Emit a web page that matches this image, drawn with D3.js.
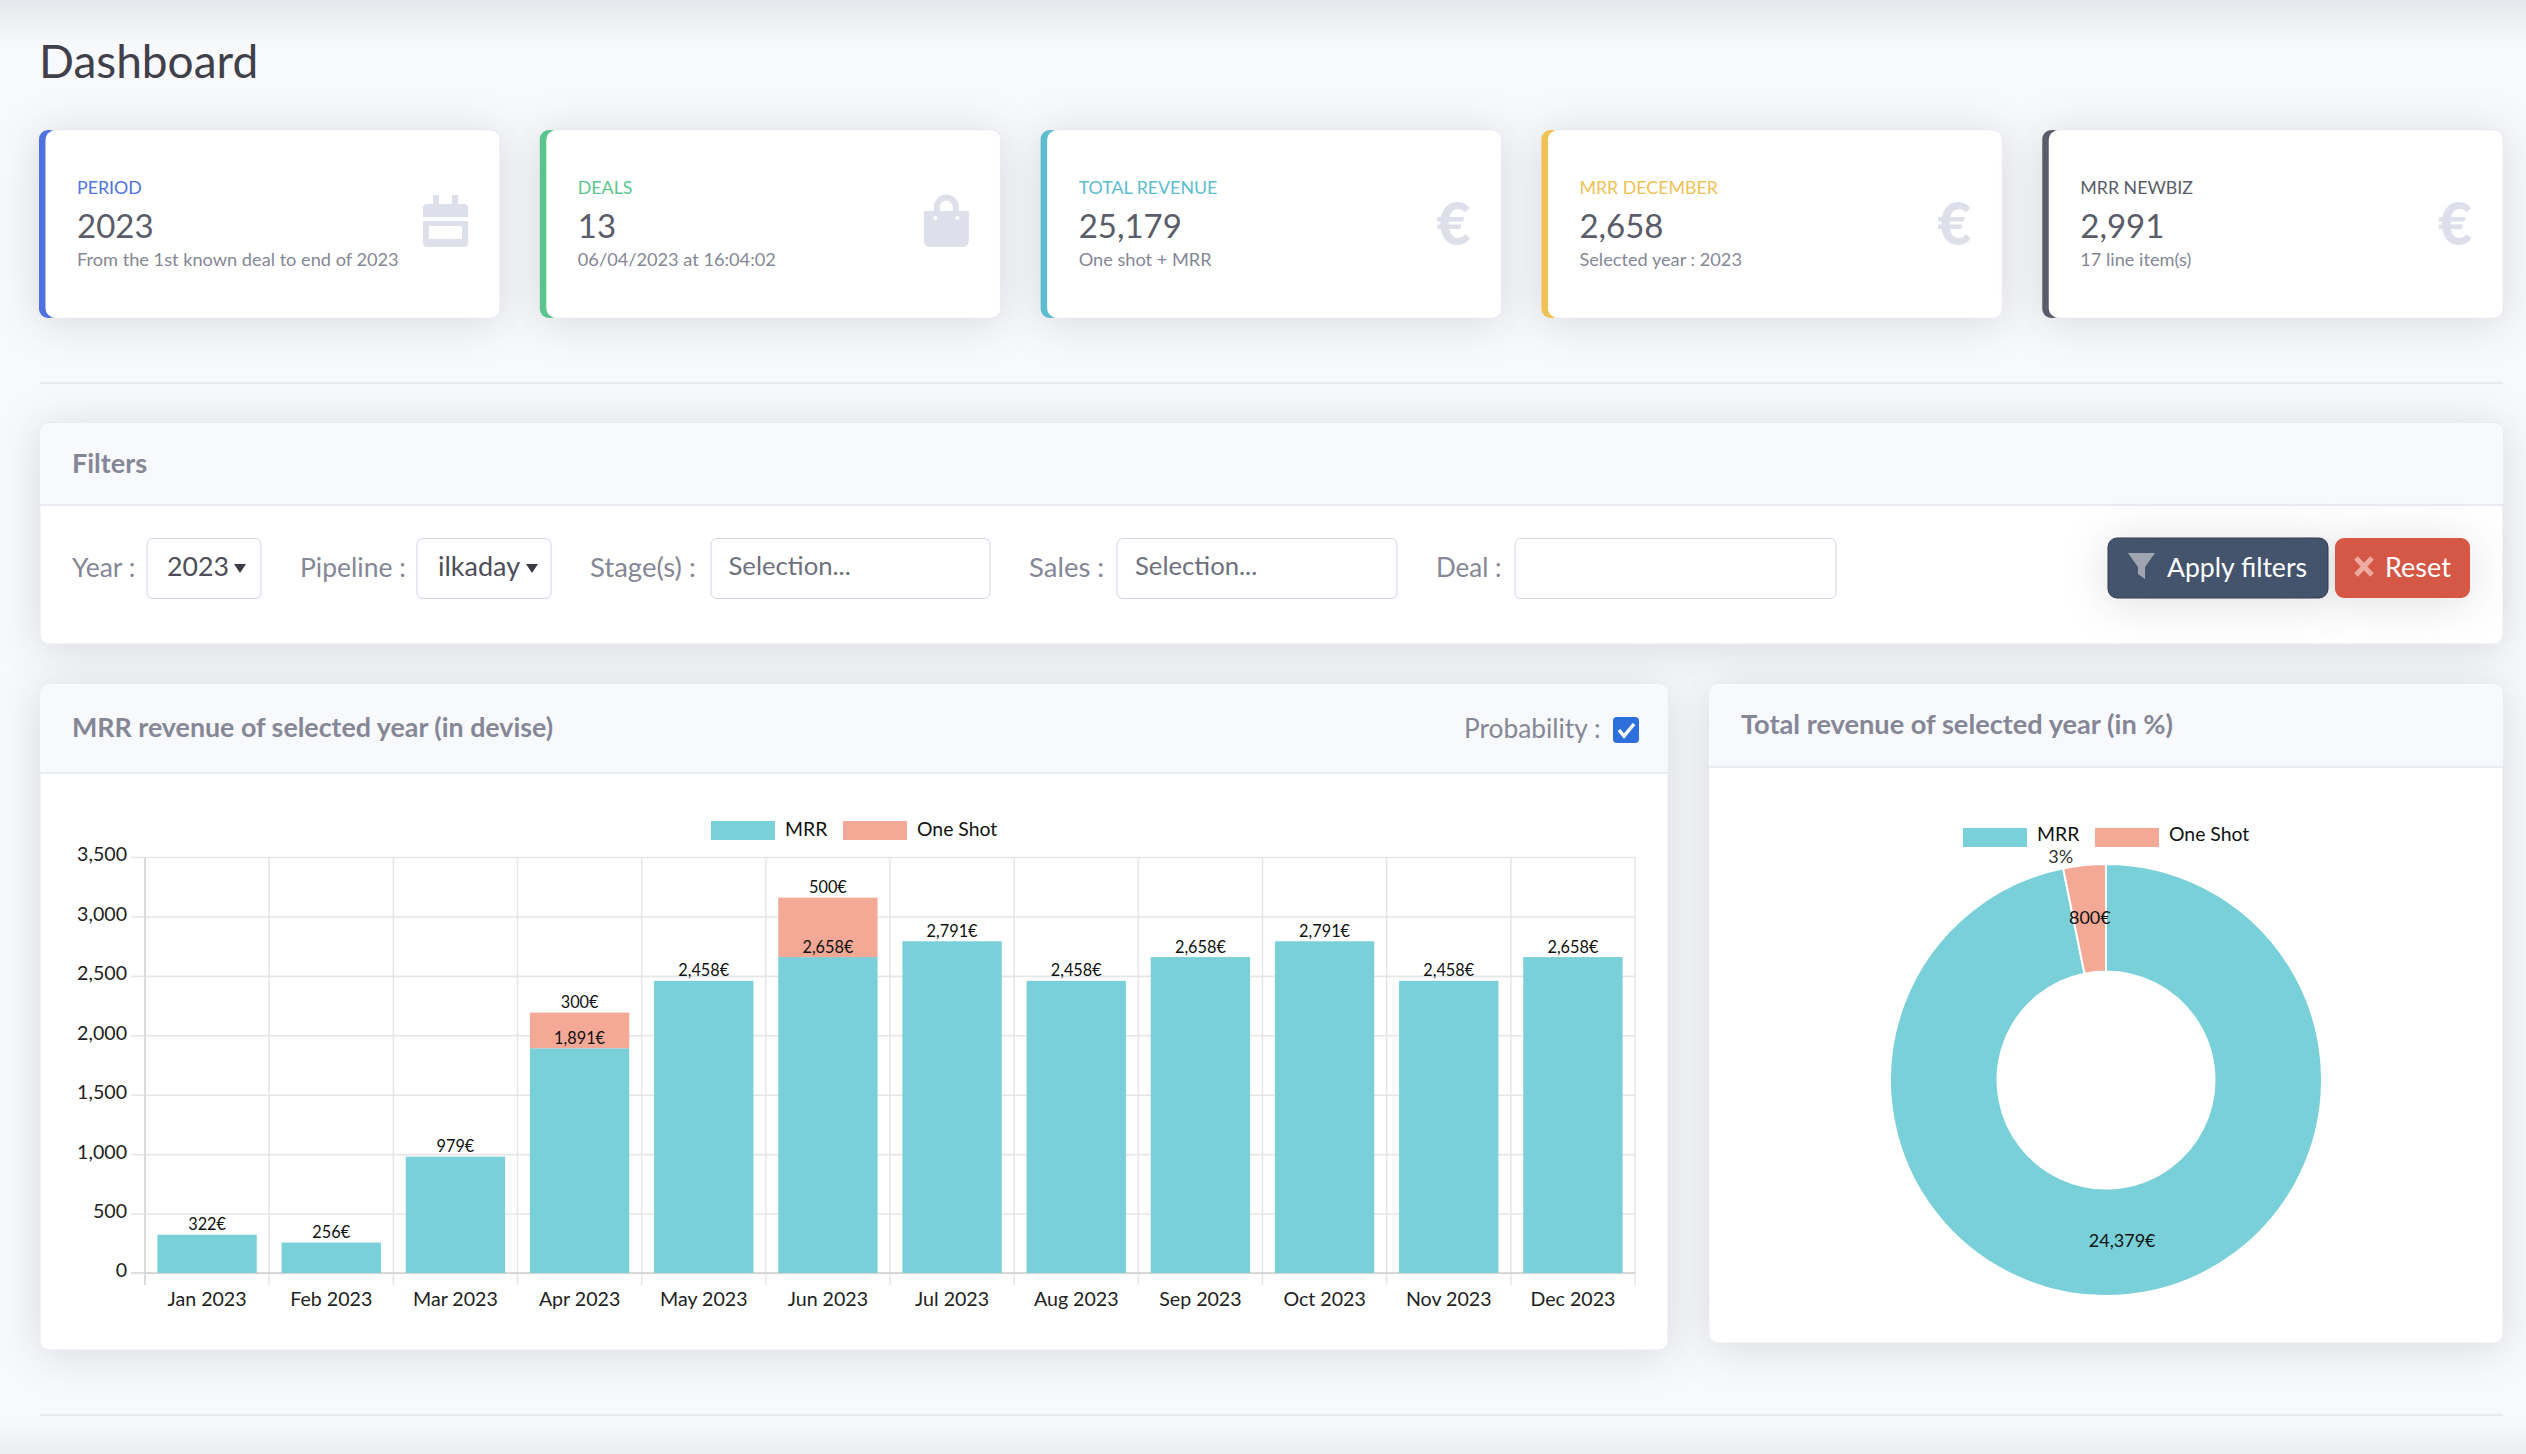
<!DOCTYPE html>
<html>
<head>
<meta charset="utf-8">
<script src="https://cdn.jsdelivr.net/npm/d3@7"></script>
<style>
html, body { margin: 0; padding: 0; background: #f8f9fc; overflow: hidden; }
svg { display: block; font-family: Lato, "Noto Sans", sans-serif; }
.shadow { filter: drop-shadow(0 4px 22px rgba(58,59,69,.16)); }
.domain { display: none; }
</style>
</head>
<body>
<script>
// chart values
var months = ["Jan 2023","Feb 2023","Mar 2023","Apr 2023","May 2023","Jun 2023","Jul 2023","Aug 2023","Sep 2023","Oct 2023","Nov 2023","Dec 2023"];
var mrrValues = [322,256,979,1891,2458,2658,2791,2458,2658,2791,2458,2658];
var oneShotValues = [0,0,0,300,0,500,0,0,0,0,0,0];
var yTicks = [0,500,1000,1500,2000,2500,3000,3500];
var seriesNames = ["MRR","One Shot"];
var donutValues = [24379,800];
var percentLabel = "3%";

// kpi cards
var kpiTitles = ["PERIOD","DEALS","TOTAL REVENUE","MRR DECEMBER","MRR NEWBIZ"];
var kpiValues = ["2023","13","25,179","2,658","2,991"];
var kpiNotes = ["From the 1st known deal to end of 2023","06/04/2023 at 16:04:02","One shot + MRR","Selected year : 2023","17 line item(s)"];
var kpiIcons = ["calendar","bag","euro","euro","euro"];

var teal = "#79d0d9", salmon = "#f3a995", grey = "#858796", iconGrey = "#dddfeb";
var kpiColors = ["#4e73df","#5cc58f","#5dbdd0","#f0c155","#5a5c69"];

var svg = d3.select("body").append("svg")
.attr("width", 2526)
.attr("height", 1454);

var defs = svg.append("defs");
var topShade = defs.append("linearGradient").attr("id","topShade").attr("x1",0).attr("x2",0).attr("y1",0).attr("y2",1);
topShade.append("stop").attr("offset",0).attr("stop-color","#e6e7ec");
topShade.append("stop").attr("offset",1).attr("stop-color","#f8f9fc");
var bottomShade = defs.append("linearGradient").attr("id","bottomShade").attr("x1",0).attr("x2",0).attr("y1",0).attr("y2",1);
bottomShade.append("stop").attr("offset",0).attr("stop-color","#f8f9fc");
bottomShade.append("stop").attr("offset",1).attr("stop-color","#ecedf1");

svg.append("rect").attr("width",2526).attr("height",1454).attr("fill","#f8f9fc");
svg.append("rect").attr("width",2526).attr("height",44).attr("fill","url(#topShade)");
svg.append("rect").attr("y",1420).attr("width",2526).attr("height",34).attr("fill","url(#bottomShade)");

function label(parent, txt, x, y, size, color, opts) {
  opts = opts || {};
  return parent.append("text")
  .attr("x", x)
  .attr("y", y - 1.5)
  .attr("dominant-baseline", "central")
  .attr("font-size", size)
  .attr("fill", color)
  .attr("font-weight", opts.weight || 400)
  .attr("text-anchor", opts.anchor || "start")
  .text(txt);
}

function panel(x, y, w, h) {
  return svg.append("rect")
  .attr("class","shadow")
  .attr("x",x).attr("y",y).attr("width",w).attr("height",h)
  .attr("rx",9)
  .attr("fill","#fff")
  .attr("stroke","#e9eaf1");
}

function panelHead(x, y, w, h) {
  svg.append("path")
  .attr("d", "M"+x+","+(y+h)+"V"+(y+9)+"a9,9 0 0 1 9,-9H"+(x+w-9)+"a9,9 0 0 1 9,9V"+(y+h)+"Z")
  .attr("fill","#f8f9fc");
  svg.append("line")
  .attr("x1",x).attr("x2",x+w).attr("y1",y+h).attr("y2",y+h)
  .attr("stroke","#e3e6f0").attr("stroke-width",1.5);
}

function hr(y) {
  svg.append("line")
  .attr("x1",40).attr("x2",2503).attr("y1",y).attr("y2",y)
  .attr("stroke","#e2e4ea").attr("stroke-width",1.5);
}

label(svg, "Dashboard", 39, 62, 46, "#3f4049");

// kpi row
var cardX = d3.scaleBand().domain(d3.range(5)).range([39,2503]).paddingInner(0.08);

function drawIcon(g, name, x) {
  if (name == "calendar") {
    g.append("path").attr("fill",iconGrey).attr("fill-rule","evenodd")
    .attr("d","M"+(x+10)+",195h6v9h13v-9h6v9h6a4,4 0 0 1 4,4v9h-45v-9a4,4 0 0 1 4,-4h6Z"
      +"M"+x+",221h45v22a4,4 0 0 1 -4,4h-37a4,4 0 0 1 -4,-4Z"
      +"M"+(x+6)+",226v13h33v-13Z");
  } else if (name == "bag") {
    g.append("path").attr("fill",iconGrey).attr("fill-rule","evenodd")
    .attr("d","M"+x+",211h10v-4a12.5,12.5 0 0 1 25,0v4h10v30a6,6 0 0 1 -6,6h-33a6,6 0 0 1 -6,-6Z"
      +"M"+(x+16)+",211h13v-4a6.5,6.5 0 0 0 -13,0Z");
    g.append("circle").attr("cx",x+11.5).attr("cy",218).attr("r",2).attr("fill","#fff");
    g.append("circle").attr("cx",x+33.5).attr("cy",218).attr("r",2).attr("fill","#fff");
  } else {
    label(g, "€", x+46, 224, 59, iconGrey, {weight:900, anchor:"end"});
  }
}

kpiTitles.forEach(function(title, i) {
  var x = cardX(i), w = cardX.bandwidth();
  panel(x,130,w,188);
  svg.append("rect").attr("x",x).attr("y",130).attr("width",20).attr("height",188).attr("rx",9).attr("fill",kpiColors[i]);
  svg.append("rect").attr("x",x+6.5).attr("y",130.5).attr("width",w-7).attr("height",187).attr("rx",9).attr("fill","#fff");
  label(svg, title, x+38, 188, 17.8, kpiColors[i]);
  label(svg, kpiValues[i], x+38, 226, 33, "#5a5c69");
  label(svg, kpiNotes[i], x+38, 260, 18.2, grey);
  drawIcon(svg, kpiIcons[i], x+384);
});
hr(383);

// filters
panel(40,423,2463,221);
panelHead(40,423,2463,82);
label(svg, "Filters", 72, 464, 27, grey, {weight:700});

function box(x, w, stroke) {
  svg.append("rect").attr("x",x).attr("y",538.5).attr("width",w).attr("height",60).attr("rx",6)
  .attr("fill","#fff").attr("stroke",stroke || "#d1d3e2").attr("stroke-width",1);
}
function caret(x) {
  svg.append("path").attr("d","M"+x+",564h12l-6,9Z").attr("fill","#3a3b45");
}
label(svg, "Year :", 72, 568, 26.5, grey);
box(147,114);
label(svg, "2023", 167, 567, 26.7, "#4d4e59");
caret(234);
label(svg, "Pipeline :", 300, 568, 26.5, grey);
box(417,134);
label(svg, "ilkaday", 438, 567, 27, "#4d4e59");
caret(526);
label(svg, "Stage(s) :", 590, 568, 27.5, grey);
box(711,279);
label(svg, "Selection...", 728.5, 566.5, 25.7, "#6e707e");
label(svg, "Sales :", 1029, 568, 27.5, grey);
box(1117,280);
label(svg, "Selection...", 1135, 566.5, 25.7, "#6e707e");
label(svg, "Deal :", 1436, 568, 26, grey);
box(1515,321,"#d4d2e6");

svg.append("rect").attr("class","shadow").attr("x",2108).attr("y",538).attr("width",220).attr("height",60).attr("rx",9).attr("fill","#44546d").attr("stroke","#2f3d52");
svg.append("path").attr("d","M2128,553h27l-10,14v12l-7,-5v-7Z").attr("fill","#a0a5b1");
label(svg, "Apply filters", 2167, 568, 26.6, "#fff");
svg.append("rect").attr("class","shadow").attr("x",2335).attr("y",538).attr("width",135).attr("height",60).attr("rx",9).attr("fill","#d55745");
svg.append("path").attr("d","M2356,558L2372,575M2372,558L2356,575").attr("stroke","#eeaba2").attr("stroke-width",5);
label(svg, "Reset", 2385, 568, 27, "#fff");

// bar chart panel
panel(40,684,1628,666);
panelHead(40,684,1628,89);
label(svg, "MRR revenue of selected year (in devise)", 72, 728, 26.8, grey, {weight:700});
label(svg, "Probability :", 1464, 729, 26.3, grey);
svg.append("rect").attr("x",1613).attr("y",717).attr("width",26).attr("height",26).attr("rx",4).attr("fill","#2f6fdc");
svg.append("path").attr("d","M1619,730l5,6l10,-12").attr("fill","none").attr("stroke","#fff").attr("stroke-width",3.5);

var chart = svg.append("g");
var x = d3.scaleBand().domain(months).range([145,1635]);
var y = d3.scaleLinear().domain([0,3500]).range([1273,857]);
var gridColor = "#e6e6e6";

var yGrid = chart.append("g").attr("transform","translate(145,0)")
.call(d3.axisLeft(y).tickValues(yTicks).tickSize(-1490).tickFormat(""));
yGrid.selectAll(".tick line").attr("stroke",gridColor).attr("stroke-width",1.6);

var edges = months.map(function(m){ return x(m); }).concat([x.range()[1]]);
chart.append("g").selectAll("line").data(edges).join("line")
.attr("x1",function(d){ return d; }).attr("x2",function(d){ return d; })
.attr("y1",y(3500)).attr("y2",y(0)+12)
.attr("stroke",function(d,i){ return i == 0 ? "#cfcfcf" : gridColor; })
.attr("stroke-width",1.5);

chart.append("line").attr("x1",131).attr("x2",1635).attr("y1",y(0)).attr("y2",y(0)).attr("stroke","#cfcfcf").attr("stroke-width",1.6);

var yAxis = chart.append("g").attr("transform","translate(145,0)")
.call(d3.axisLeft(y).tickValues(yTicks).tickSize(14).tickPadding(4).tickFormat(d3.format(",")))
.attr("font-family",null);
yAxis.selectAll(".tick line").attr("stroke",gridColor).attr("stroke-width",1.6);
yAxis.selectAll("text").attr("font-size",19.6).attr("fill","#222").attr("dy",".2em");

var xAxis = chart.append("g").attr("transform","translate(0,1300)")
.call(d3.axisBottom(x).tickSize(0).tickPadding(0))
.attr("font-family",null);
xAxis.selectAll("text").attr("font-size",19.6).attr("fill","#222").attr("dy",".3em").attr("y",0);

var rows = months.map(function(m,i){ return {month:m, MRR:mrrValues[i], "One Shot":oneShotValues[i]}; });
var stacked = d3.stack().keys(seriesNames)(rows);
var barColor = d3.scaleOrdinal().domain(seriesNames).range([teal,salmon]);
var barPad = x.bandwidth()*0.1;

stacked.forEach(function(layer) {
  var g = chart.append("g");
  var shown = layer.filter(function(d){ return d[1] > d[0]; });
  g.selectAll("rect").data(shown).join("rect")
  .attr("x",function(d){ return x(d.data.month)+barPad; })
  .attr("width",x.bandwidth()-2*barPad)
  .attr("y",function(d){ return y(d[1]); })
  .attr("height",function(d){ return y(d[0])-y(d[1]); })
  .attr("fill",barColor(layer.key));
  layer.labels = shown;
});
stacked.forEach(function(layer) {
  chart.append("g").selectAll("text").data(layer.labels).join("text")
  .attr("x",function(d){ return x(d.data.month)+x.bandwidth()/2; })
  .attr("y",function(d){ return y(d[1])-11; })
  .attr("text-anchor","middle")
  .attr("dominant-baseline","central")
  .attr("font-size",16.3)
  .attr("fill","#111")
  .text(function(d){ return d3.format(",")(d[1]-d[0])+"€"; });
});

function legend(top, spots, textY) {
  seriesNames.forEach(function(name,i) {
    svg.append("rect").attr("x",spots[i]).attr("y",top).attr("width",64).attr("height",19).attr("fill",barColor(name));
    label(svg, name, spots[i]+74, textY, 19.4, "#111");
  });
}
legend(821,[711,843],830);

// donut panel
panel(1709,684,794,659);
panelHead(1709,684,794,83);
label(svg, "Total revenue of selected year (in %)", 1741, 725, 27.2, grey, {weight:700});
legend(828,[1963,2095],835);

var cx = 2106, cy = 1080, rOuter = 216, rInner = 108.5;
var pie = d3.pie().sort(null)(donutValues);
var arc = d3.arc().innerRadius(rInner).outerRadius(rOuter);
var donut = svg.append("g").attr("transform","translate("+cx+","+cy+")");
donut.selectAll("path").data(pie).join("path")
.attr("d",arc)
.attr("fill",function(d,i){ return barColor(seriesNames[i]); })
.attr("stroke","#fff")
.attr("stroke-width",2);
donut.selectAll("text.val").data(pie).join("text")
.attr("class","val")
.attr("transform",function(d){ return "translate("+arc.centroid(d)+")"; })
.attr("dy",-1.5)
.attr("text-anchor","middle")
.attr("dominant-baseline","central")
.attr("font-size",18)
.attr("fill","#111")
.text(function(d){ return d3.format(",")(d.value)+"€"; });
var outer = d3.arc().innerRadius(rOuter+8).outerRadius(rOuter+8).centroid(pie[1]);
donut.append("text")
.attr("x",outer[0]-23).attr("y",outer[1]-1)
.attr("text-anchor","middle")
.attr("dominant-baseline","central")
.attr("font-size",18)
.attr("fill","#333")
.text(percentLabel);

hr(1415);
</script>
</body>
</html>
